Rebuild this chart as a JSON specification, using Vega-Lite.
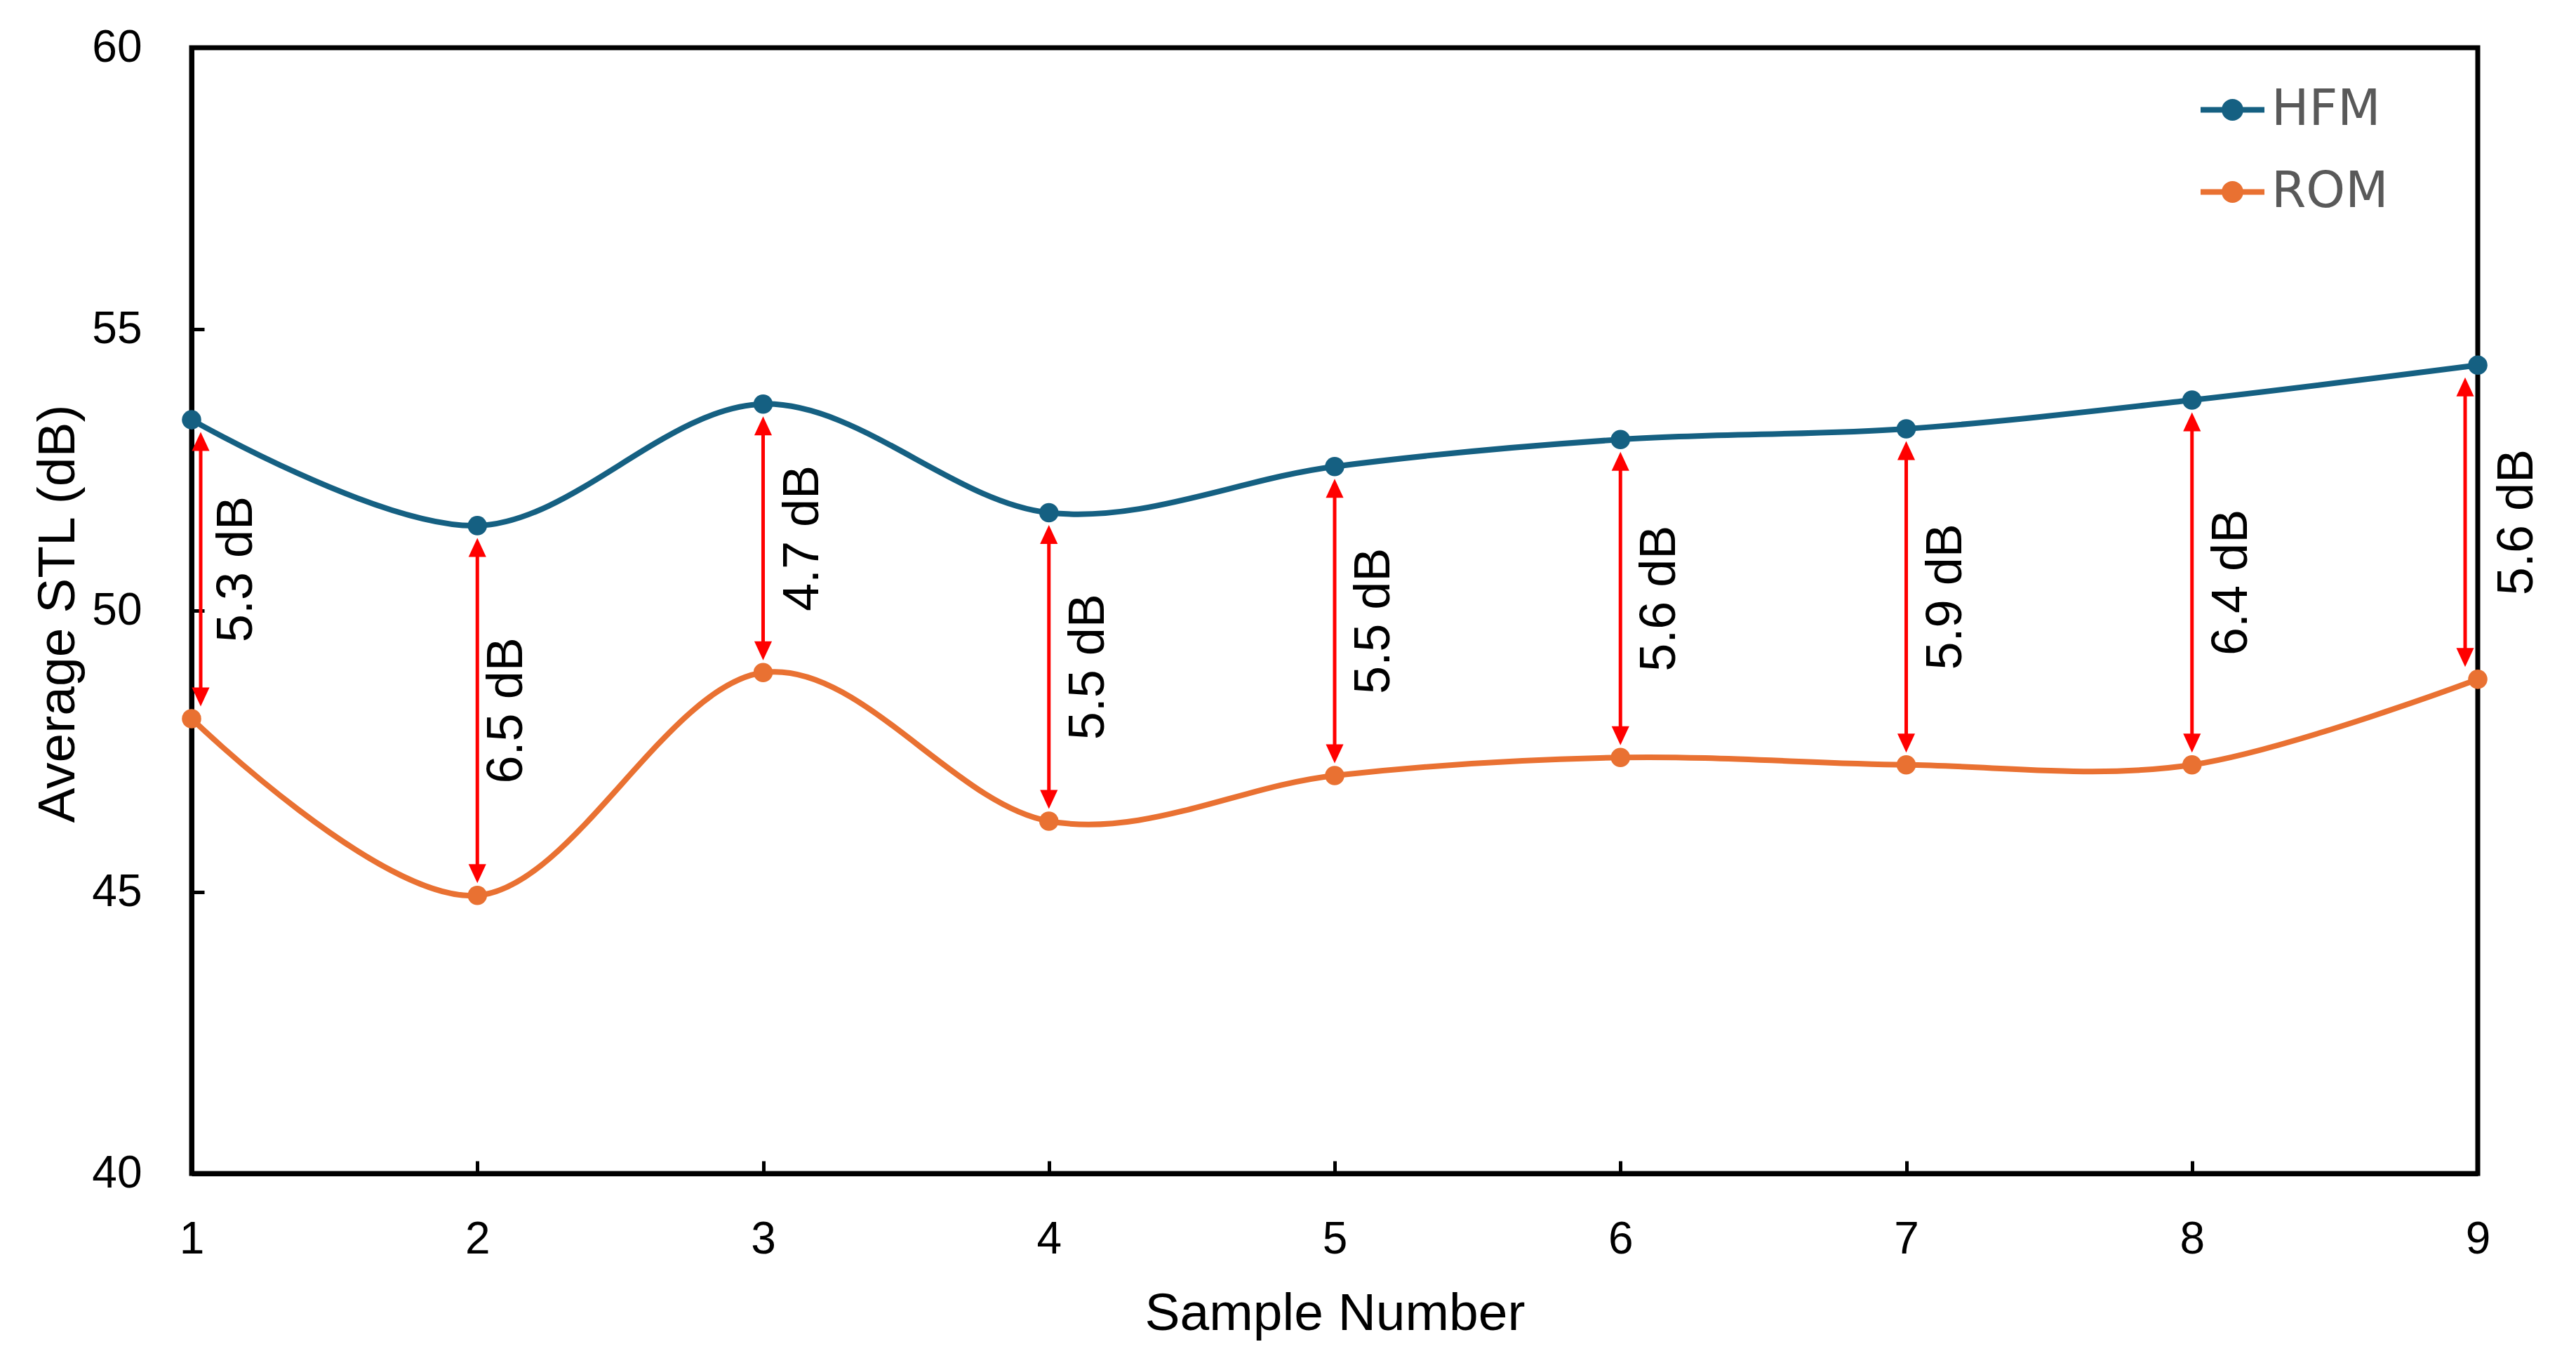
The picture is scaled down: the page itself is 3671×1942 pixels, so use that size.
{
  "$schema": "https://vega.github.io/schema/vega-lite/v6.json",
  "width": 3258,
  "height": 1604,
  "autosize": {"type": "none"},
  "padding": {"left": 273, "top": 68, "right": 140, "bottom": 270},
  "background": "white",
  "config": {
    "view": {"stroke": "black", "strokeWidth": 7},
    "font": "Liberation Sans",
    "axis": {
      "grid": false,
      "domainColor": "black",
      "domainWidth": 7,
      "tickColor": "black",
      "tickWidth": 5,
      "tickSize": -18,
      "labelFont": "Liberation Sans",
      "labelFontSize": 64,
      "labelColor": "black",
      "labelFlush": false,
      "labelOverlap": false,
      "titleFont": "Liberation Sans",
      "titleFontSize": 75,
      "titleColor": "black",
      "titleFontWeight": "normal"
    }
  },
  "data": {
    "values": [
      {"sample": 1, "HFM": 53.39, "ROM": 48.08, "label": "5.3 dB"},
      {"sample": 2, "HFM": 51.51, "ROM": 44.94, "label": "6.5 dB"},
      {"sample": 3, "HFM": 53.67, "ROM": 48.90, "label": "4.7 dB"},
      {"sample": 4, "HFM": 51.74, "ROM": 46.26, "label": "5.5 dB"},
      {"sample": 5, "HFM": 52.56, "ROM": 47.07, "label": "5.5 dB"},
      {"sample": 6, "HFM": 53.04, "ROM": 47.39, "label": "5.6 dB"},
      {"sample": 7, "HFM": 53.23, "ROM": 47.26, "label": "5.9 dB"},
      {"sample": 8, "HFM": 53.74, "ROM": 47.26, "label": "6.4 dB"},
      {"sample": 9, "HFM": 54.36, "ROM": 48.78, "label": "5.6 dB"}
    ]
  },
  "layer": [
    {
      "transform": [{"fold": ["HFM", "ROM"], "as": ["Model", "STL"]}],
      "mark": {"type": "line", "interpolate": "cardinal", "tension": 0, "strokeWidth": 8},
      "encoding": {
        "x": {"field": "sample", "type": "quantitative", "scale": {"domain": [1, 9], "nice": false, "zero": false},
              "axis": {"values": [1, 2, 3, 4, 5, 6, 7, 8, 9], "format": "d", "title": "Sample Number", "labelPadding": 80, "titleX": 1629, "titleY": 222, "titleBaseline": "alphabetic", "titleAlign": "center"}},
        "y": {"field": "STL", "type": "quantitative", "scale": {"domain": [40, 60], "nice": false, "zero": false},
              "axis": {"values": [40, 45, 50, 55, 60], "format": "d", "title": "Average STL (dB)", "labelPadding": 89, "titleX": -191, "titleY": 806, "titleAngle": 270, "titleBaseline": "middle", "titleAlign": "center"}},
        "color": {"field": "Model", "type": "nominal",
                  "scale": {"domain": ["HFM", "ROM"], "range": ["#156082", "#E97132"]},
                  "legend": {"title": null, "orient": "none", "legendX": 2863, "legendY": 43,
                             "symbolType": "M-1,-0.09L1,-0.09L1,0.09L-1,0.09Z M-0.34,0A0.34,0.34 0 1,1 0.34,0A0.34,0.34 0 1,1 -0.34,0Z",
                             "symbolSize": 8281, "labelFont": "DejaVu Sans", "labelFontSize": 71, "labelColor": "#595959",
                             "labelOffset": 10, "labelLimit": 500, "rowPadding": 36, "padding": 0,
                             "encode": {"symbols": {"update": {"fill": {"scale": "color", "field": "value"}, "strokeWidth": {"value": 0}, "opacity": {"value": 1}}}}}}
      }
    },
    {
      "transform": [{"fold": ["HFM", "ROM"], "as": ["Model", "STL"]}],
      "mark": {"type": "point", "filled": true, "size": 760, "opacity": 1},
      "encoding": {
        "x": {"field": "sample", "type": "quantitative"},
        "y": {"field": "STL", "type": "quantitative"},
        "color": {"field": "Model", "type": "nominal"}
      }
    },
    {
      "mark": {"type": "rule", "color": "#FF0000", "strokeWidth": 5, "yOffset": 31, "y2Offset": -31,
               "xOffset": {"expr": "datum.sample == 1 ? 13 : (datum.sample == 9 ? -18 : 0)"}},
      "encoding": {
        "x": {"field": "sample", "type": "quantitative"},
        "y": {"field": "HFM", "type": "quantitative"},
        "y2": {"field": "ROM"}
      }
    },
    {
      "mark": {"type": "point", "shape": "M0,-1L0.93,1L-0.93,1Z", "filled": true, "color": "#FF0000", "opacity": 1, "size": 729, "yOffset": 31,
               "xOffset": {"expr": "datum.sample == 1 ? 13 : (datum.sample == 9 ? -18 : 0)"}},
      "encoding": {
        "x": {"field": "sample", "type": "quantitative"},
        "y": {"field": "HFM", "type": "quantitative"}
      }
    },
    {
      "mark": {"type": "point", "shape": "M0,1L0.93,-1L-0.93,-1Z", "filled": true, "color": "#FF0000", "opacity": 1, "size": 729, "yOffset": -31,
               "xOffset": {"expr": "datum.sample == 1 ? 13 : (datum.sample == 9 ? -18 : 0)"}},
      "encoding": {
        "x": {"field": "sample", "type": "quantitative"},
        "y": {"field": "ROM", "type": "quantitative"}
      }
    },
    {
      "transform": [{"calculate": "(datum.HFM + datum.ROM) / 2", "as": "mid"}],
      "mark": {"type": "text", "angle": 270, "align": "center", "baseline": "middle", "fontSize": 72, "font": "Liberation Sans", "color": "black",
               "xOffset": {"expr": "datum.sample == 1 ? 64 : (datum.sample == 2 ? 42 : 56)"}},
      "encoding": {
        "x": {"field": "sample", "type": "quantitative"},
        "y": {"field": "mid", "type": "quantitative"},
        "text": {"field": "label"}
      }
    }
  ]
}
